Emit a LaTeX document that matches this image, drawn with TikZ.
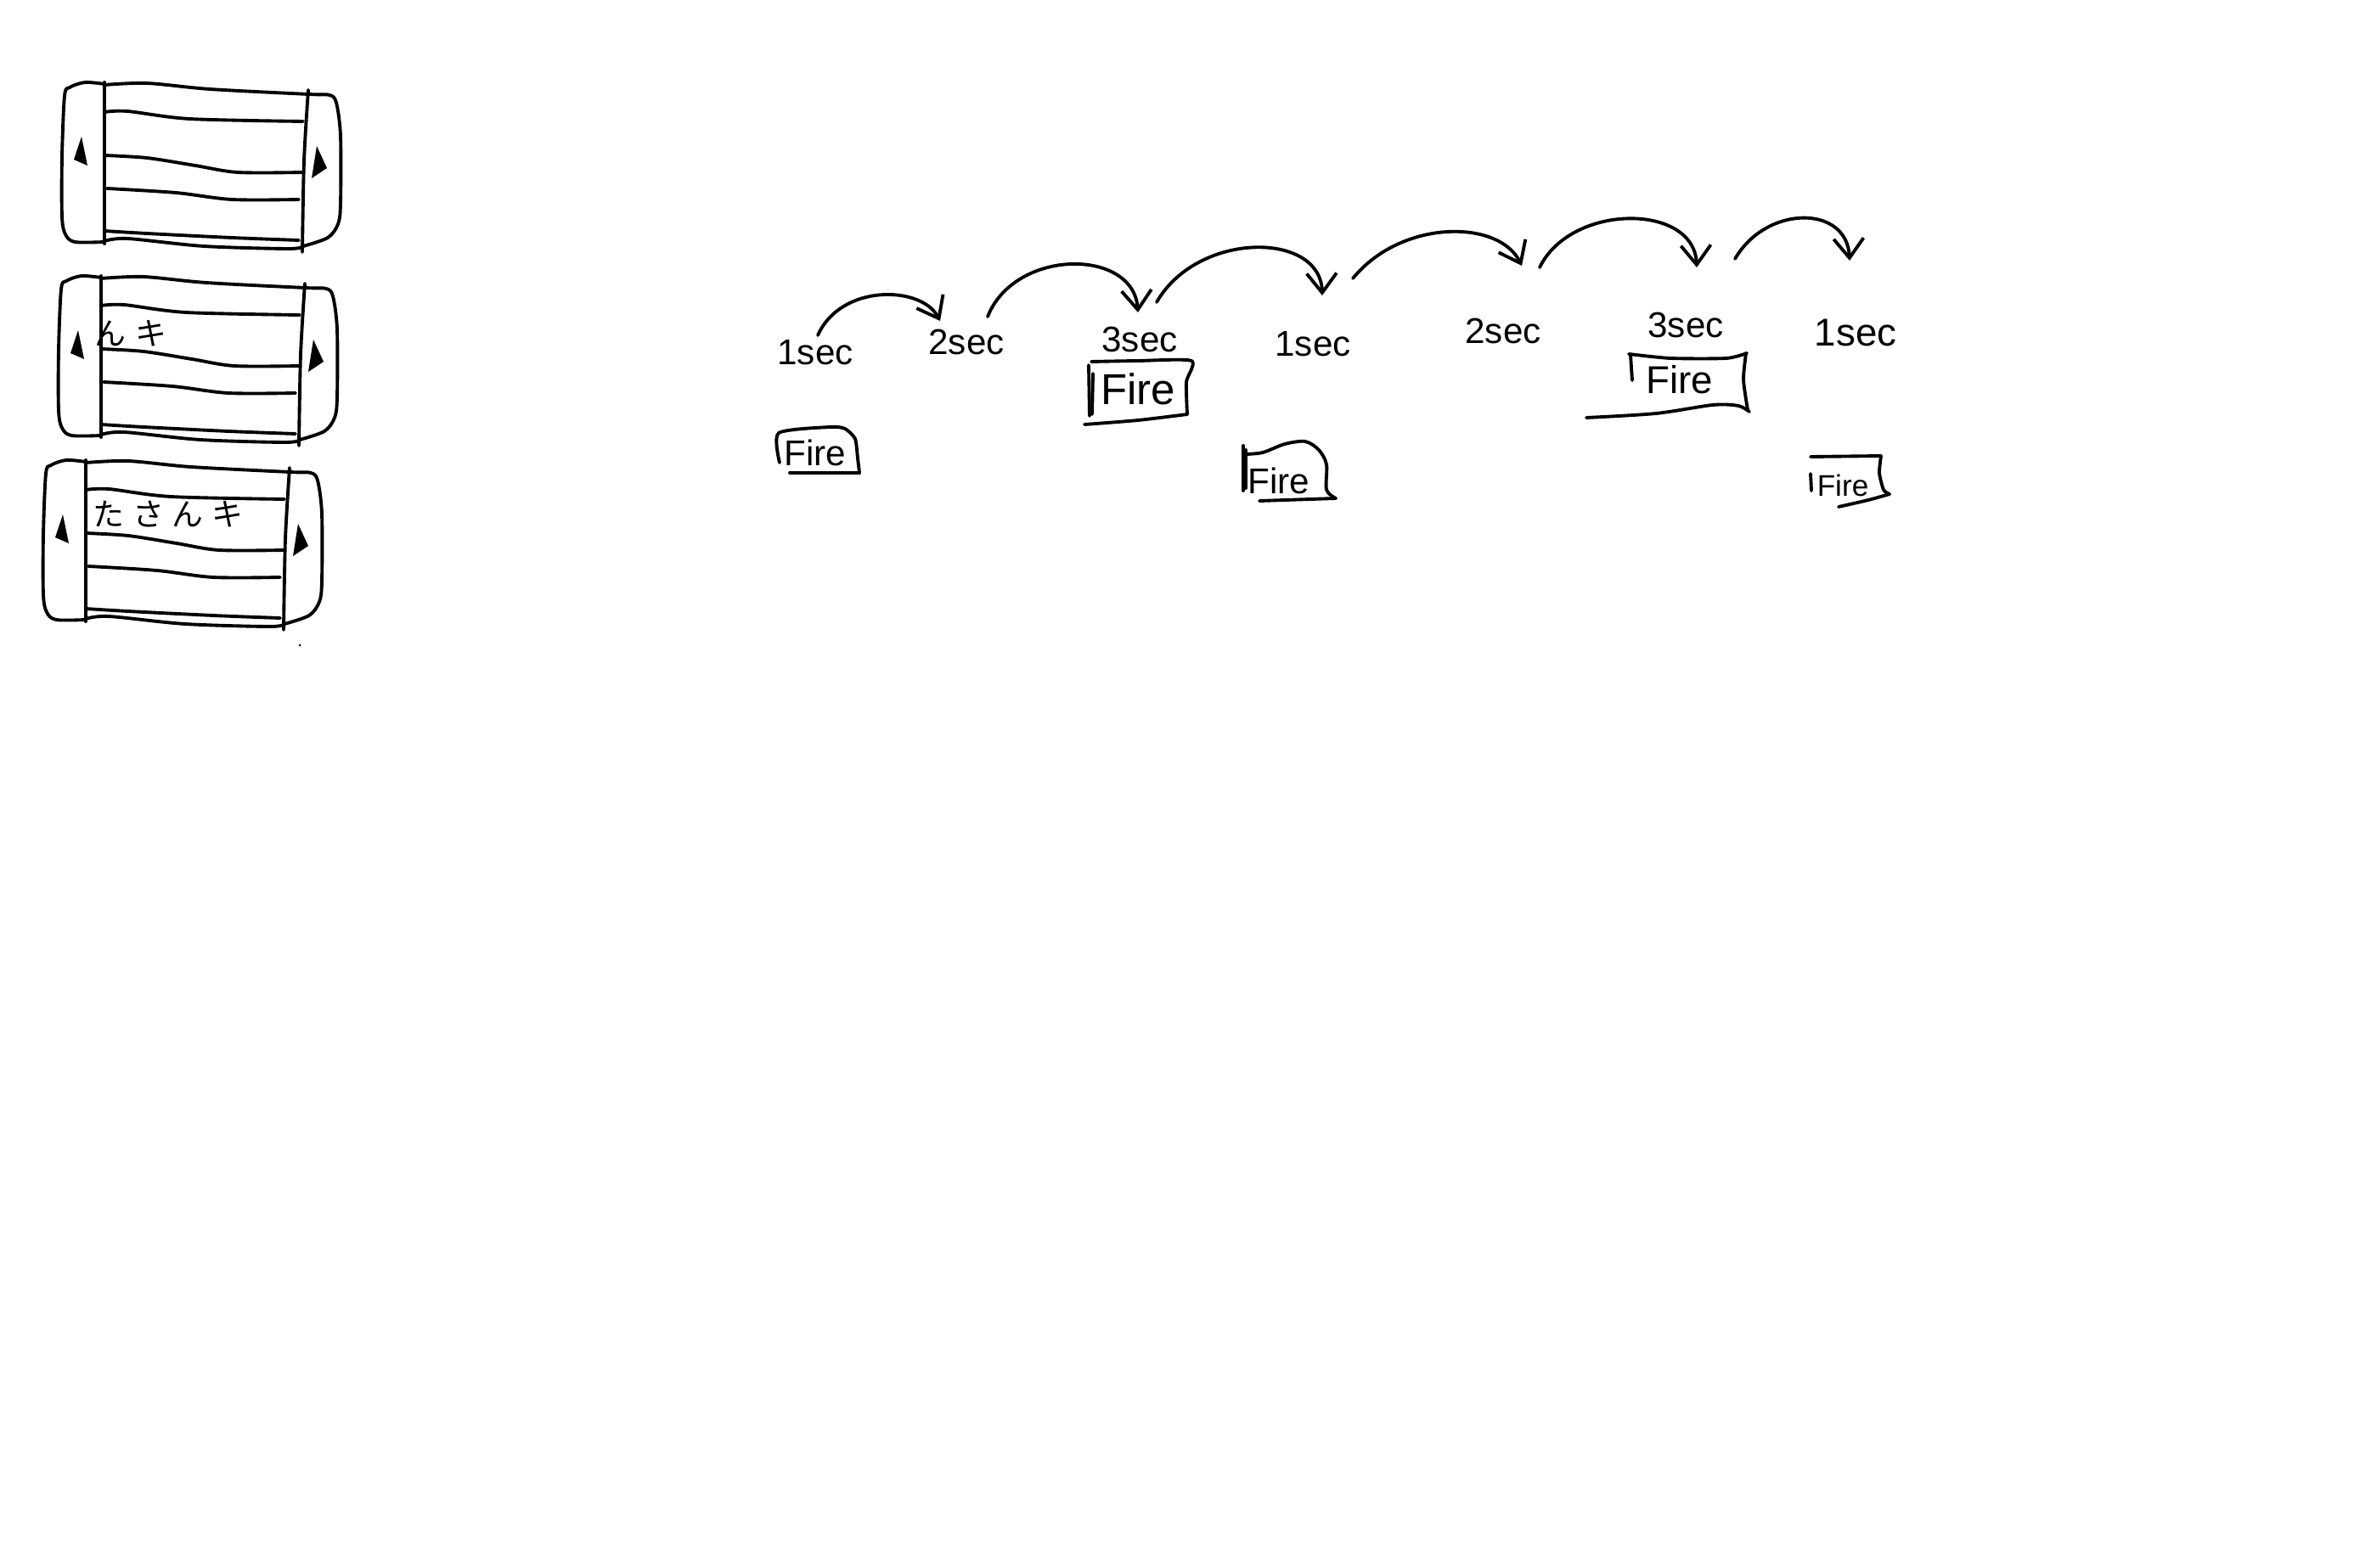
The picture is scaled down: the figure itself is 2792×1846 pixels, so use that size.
\documentclass[tikz,border=0pt]{standalone}
\usepackage{fontspec}
\setmainfont{Liberation Sans}
\newfontfamily\jpfont{Noto Sans CJK JP}
\usetikzlibrary{arrows.meta,calc}

\tikzset{
  % one phone held sideways: side bezels, screen rows, two arrow buttons
  phone/.pic={
    \draw plot[smooth,tension=0.5] coordinates {(123,99)(100,97)(82,103)(76,113)(73,185)(73,255)(77,276)(88,285)(123,285)};
    \draw plot[smooth,tension=0.5] coordinates {(123,100)(173,98)(247,105)(363,111)(388,112)(396,121)(401,160)(401,240)(398,264)(386,280)(357,290)};
    \draw (123,97) -- (123,287);
    \draw plot[smooth] coordinates {(363,106)(358,190)(356,297)};
    \draw plot[smooth] coordinates {(123,132)(150,131)(223,140)(357,143)};
    \draw plot[smooth] coordinates {(123,183)(173,186)(230,195)(280,203)(357,203)};
    \draw plot[smooth] coordinates {(126,222)(207,227)(273,235)(352,235)};
    \draw plot[smooth] coordinates {(123,272)(173,275)(273,280)(352,283)};
    \draw plot[smooth] coordinates {(123,284)(150,281)(240,290)(340,293)(357,290)};
    \fill (96,161) -- (87,188) -- (103,195) -- cycle;
    \fill (373,172) -- (367,210) -- (385,198) -- cycle;
  }
}

\begin{document}
\begin{tikzpicture}[x=0.01cm, y=-0.01cm,
  line width=1.1pt, line cap=round, line join=round,
  lbl/.style={inner sep=0pt, font=\fontsize{12}{14}\selectfont},
  fire/.style={inner sep=0pt},
  hop/.style={-{Straight Barb[length=6.5pt,width=10pt]}},
  ticker/.style={inner sep=0pt, font=\jpfont\fontsize{10.5}{12}\selectfont}]

\fill[white] (0,0) rectangle (2792,1846);
\useasboundingbox (0,0) rectangle (2792,1846);

% three phone frames
\pic at (0,0) {phone};
\pic at (-4,228) {phone};
\pic at (-22,445) {phone};

% scrolling text in the phones
\node[ticker] (t2) at (154,393) {ん\hspace{0.12cm}キ};
\node[ticker] (t3) at (198,606) {た\hspace{0.1cm}さ\hspace{0.1cm}ん\hspace{0.1cm}キ};
\fill (353,760) circle (1.5);

% timer labels
\node[lbl] (s1) at (960,415) {1sec};
\node[lbl] (s2) at (1138,403) {2sec};
\node[lbl] (s3) at (1342,400) {3sec};
\node[lbl] (s4) at (1546,405) {1sec};
\node[lbl] (s5) at (1770,390) {2sec};
\node[lbl] (s6) at (1985,383) {3sec};
\node[lbl, font=\fontsize{13}{15}\selectfont] (s7) at (2185,392) {1sec};

% hops between the labels
\draw[hop] ([shift={(3,-20)}]s1.center) .. controls +(27,-61) and +(-22,-42) .. ([shift={(-31,-25)}]s2.center);
\draw[hop] ([shift={(25,-30)}]s2.center) .. controls +(32,-81) and +(-5,-76) .. ([shift={(-2,-32)}]s3.center);
\draw[hop] ([shift={(20,-44)}]s3.center) .. controls +(48,-84) and +(-2,-76) .. ([shift={(11,-57)}]s4.center);
\draw[hop] ([shift={(47,-77)}]s4.center) .. controls +(57,-70) and +(-27,-55) .. ([shift={(22,-77)}]s5.center);
\draw[hop] ([shift={(43,-75)}]s5.center) .. controls +(37,-76) and +(-3,-76) .. ([shift={(13,-68)}]s6.center);
\draw[hop] ([shift={(58,-78)}]s6.center) .. controls +(37,-64) and +(-3,-66) .. ([shift={(-7,-85)}]s7.center);

% "Fire" boxes
\node[fire, font=\fontsize{12}{14}\selectfont] (f1) at (960,533) {Fire};
\draw plot[smooth,tension=0.4] coordinates {(918,545)(917,510)(977,503)(995,505)(1007,517)(1010,540)(1012,557)};
\draw (930,557) -- (1012,557);

\node[fire, font=\fontsize{14.5}{16}\selectfont] (f2) at (1340,458) {Fire};
\draw (1282,430) -- (1283,490);
\draw (1287,440) -- (1286,488);
\draw plot[smooth,tension=0.4] coordinates {(1285,426)(1340,425)(1403,425)(1397,450)(1398,488)};
\draw plot[smooth] coordinates {(1398,488)(1340,495)(1277,500)};

\node[fire, font=\fontsize{12}{14}\selectfont] (f3) at (1506,566) {Fire};
\draw (1464,525) -- (1464,578);
\draw (1467,530) -- (1467,575);
\draw plot[smooth,tension=0.5] coordinates {(1467,535)(1487,533)(1513,523)(1537,520)(1553,530)(1562,547)(1562,577)(1573,587)};
\draw (1483,590) -- (1573,587);

\node[fire, font=\fontsize{13}{15}\selectfont] (f4) at (1978,447) {Fire};
\draw (1920,418) -- (1922,448);
\draw plot[smooth,tension=0.4] coordinates {(1918,417)(1967,422)(2033,422)(2057,416)};
\draw plot[smooth,tension=0.4] coordinates {(2056,416)(2053,447)(2058,483)};
\draw plot[smooth] coordinates {(1868,492)(1950,487)(2017,477)(2047,478)(2060,485)};

\node[fire, font=\fontsize{10}{12}\selectfont] (f5) at (2170,572) {Fire};
\draw (2132,558) -- (2133,578);
\draw (2132,538) -- (2215,537);
\draw plot[smooth,tension=0.4] coordinates {(2215,537)(2213,557)(2218,577)(2225,582)};
\draw plot[smooth] coordinates {(2165,597)(2200,589)(2225,582)};

\end{tikzpicture}
\end{document}
